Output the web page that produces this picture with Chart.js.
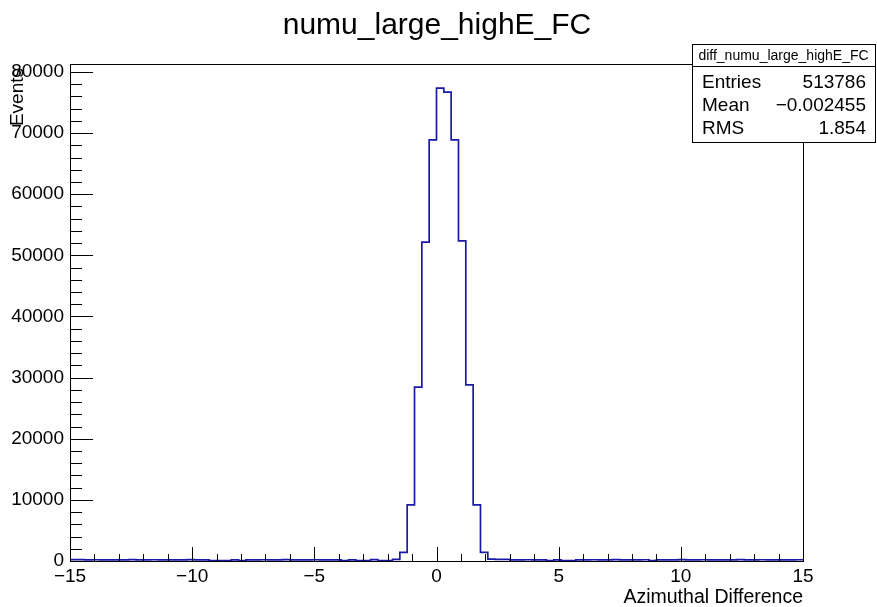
<!DOCTYPE html>
<html>
<head>
<meta charset="utf-8">
<script src="https://cdn.jsdelivr.net/npm/chart.js@4"></script>
<style>
  body { margin: 0; background: #fff; }
  canvas { display: block; }
</style>
</head>
<body>
<canvas id="histo" width="877" height="607"></canvas>
<script>
// histogram binning (100 bins from -15 to 15)
const binLow = -15;
const binHigh = 15;
const binWidth = 0.3;

// bin contents
const counts = [
  210, 190, 205, 200, 195, 185, 200, 210, 190, 200,
  205, 195, 185, 200, 195, 210, 190, 200, 60, 60,
  60, 190, 60, 200, 195, 205, 190, 200, 210, 195,
  200, 190, 205, 200, 195, 200, 60, 200, 60, 60,
  220, 60, 60, 250, 1420, 9170, 28430, 52160, 68900, 77360,
  76710, 68900, 52370, 28800, 9170, 1420, 300, 280, 260, 200,
  195, 205, 200, 200, 60, 200, 60, 60, 200, 195,
  205, 190, 200, 210, 195, 200, 190, 205, 60, 200,
  195, 200, 210, 190, 200, 205, 195, 200, 190, 200,
  210, 195, 200, 205, 190, 200, 195, 200, 205, 200
];

const xTickLabels = [-15, -10, -5, 0, 5, 10, 15];
const yTickLabels = [0, 10000, 20000, 30000, 40000, 50000, 60000, 70000, 80000];
const yMax = 81300;

const title = 'numu_large_highE_FC';
const histName = 'diff_numu_large_highE_FC';
const statNames = ['Entries', 'Mean', 'RMS'];
const statValues = ['513786', '\u22120.002455', '1.854'];

const FONT = "'Liberation Sans', Arial, Helvetica, sans-serif";

// one point per bin edge: bin i runs from edge i to edge i+1 at counts[i]
const points = [{ x: binLow, y: counts[0] }];
counts.forEach((c, i) => points.push({ x: binLow + (i + 1) * binWidth, y: c }));

function fmt(v) {
  return v < 0 ? '\u2212' + Math.abs(v) : String(v);
}

// ROOT-like frame, inward ticks, titles and the stats box
const rootStyle = {
  id: 'rootStyle',
  afterDraw(chart) {
    const ctx = chart.ctx;
    const a = chart.chartArea;
    const xs = chart.scales.x;
    const ys = chart.scales.y;
    ctx.save();
    ctx.strokeStyle = '#000';
    ctx.lineWidth = 1;
    ctx.strokeRect(Math.round(a.left) + 0.5, Math.round(a.top) + 0.5,
      Math.round(a.right - a.left), Math.round(a.bottom - a.top));

    ctx.beginPath();
    for (let v = binLow; v <= binHigh; v += 1) {
      const px = Math.round(xs.getPixelForValue(v)) + 0.5;
      const len = v % 5 === 0 ? 14 : 7;
      ctx.moveTo(px, a.bottom);
      ctx.lineTo(px, a.bottom - len);
    }
    for (let v = 0; v <= yMax; v += 2000) {
      const py = Math.round(ys.getPixelForValue(v)) + 0.5;
      const len = v % 10000 === 0 ? 23 : 12;
      ctx.moveTo(a.left, py);
      ctx.lineTo(a.left + len, py);
    }
    ctx.stroke();

    ctx.fillStyle = '#000';
    ctx.font = '30px ' + FONT;
    ctx.textAlign = 'center';
    ctx.textBaseline = 'middle';
    ctx.fillText(title, 437, 26);

    // axis titles
    ctx.font = '19.5px ' + FONT;
    ctx.textAlign = 'right';
    ctx.textBaseline = 'alphabetic';
    ctx.fillText('Azimuthal Difference', a.right, 603);

    ctx.save();
    ctx.translate(23, 68);
    ctx.rotate(-Math.PI / 2);
    ctx.textAlign = 'right';
    ctx.font = '19px ' + FONT;
    ctx.fillText('Events', 0, 0);
    ctx.restore();

    // stats box
    const bx = 692, by = 44, bw = 183, bh = 98;
    ctx.fillStyle = '#fff';
    ctx.fillRect(bx, by, bw, bh);
    ctx.strokeRect(bx + 0.5, by + 0.5, bw, bh);
    ctx.beginPath();
    ctx.moveTo(bx, by + 22.5);
    ctx.lineTo(bx + bw, by + 22.5);
    ctx.stroke();

    ctx.fillStyle = '#000';
    ctx.font = '14px ' + FONT;
    ctx.textAlign = 'center';
    ctx.textBaseline = 'middle';
    ctx.fillText(histName, bx + bw / 2, by + 12);

    ctx.font = '19px ' + FONT;
    statNames.forEach((name, i) => {
      const y = by + 39 + i * 23;
      ctx.textAlign = 'left';
      ctx.fillText(name, bx + 10, y);
      ctx.textAlign = 'right';
      ctx.fillText(statValues[i], bx + bw - 9, y);
    });
    ctx.restore();
  }
};

new Chart(document.getElementById('histo'), {
  type: 'line',
  data: {
    datasets: [{
      data: points,
      stepped: 'before',
      borderColor: '#1a1aa8',
      borderWidth: 1.7,
      pointRadius: 0,
      fill: false
    }]
  },
  options: {
    responsive: false,
    animation: false,
    layout: { padding: { left: 0, right: 74, top: 64, bottom: 0 } },
    plugins: {
      legend: { display: false },
      tooltip: { enabled: false },
      title: { display: false }
    },
    scales: {
      x: {
        type: 'linear',
        min: binLow,
        max: binHigh,
        afterFit(scale) { scale.height = 46; },
        afterBuildTicks(scale) { scale.ticks = xTickLabels.map(v => ({ value: v })); },
        grid: { display: false, drawTicks: false },
        border: { display: false },
        ticks: {
          color: '#000',
          font: { family: FONT, size: 19 },
          padding: 4,
          maxRotation: 0,
          autoSkip: false,
          callback: v => fmt(v)
        }
      },
      y: {
        min: 0,
        max: yMax,
        afterFit(scale) { scale.width = 70; },
        afterBuildTicks(scale) { scale.ticks = yTickLabels.map(v => ({ value: v })); },
        grid: { display: false, drawTicks: false },
        border: { display: false },
        ticks: {
          color: '#000',
          font: { family: FONT, size: 19 },
          padding: 6,
          autoSkip: false,
          callback: v => String(v)
        }
      }
    }
  },
  plugins: [rootStyle]
});
</script>
</body>
</html>
